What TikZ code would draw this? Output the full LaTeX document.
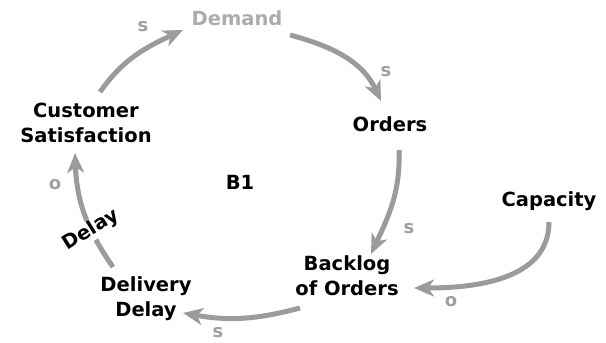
\documentclass[tikz,border=0pt]{standalone}
\usepackage{fontspec}
\setmainfont{DejaVu Sans}
\usepackage{tikz}
\definecolor{linkgray}{RGB}{155,155,155}
\definecolor{demgray}{RGB}{172,172,172}
\definecolor{polgray}{RGB}{160,160,160}
\usetikzlibrary{arrows.meta}

\begin{document}
\begin{tikzpicture}[x=1pt, y=1pt,
        >={Stealth[length=20pt,width=17pt,inset=6pt]},   %Pfeilspitzen
        var/.style={align=center, inner sep=3pt, font=\fontsize{19.5}{25}\selectfont\bfseries},
        pol/.style={text=polgray, font=\fontsize{18}{20}\selectfont\bfseries},
        link/.style={->, draw=linkgray, line width=5pt}]
        %Bildbereich
        \useasboundingbox (0,0) rectangle (606,343);
        % Variablen
        \node[var, text=demgray] (dem) at (237,325) {Demand};
        \node[var] (ord) at (390,219) {Orders};
        \node[var] (cs) at (86,220) {Customer\\Satisfaction};
        \node[var] (b1) at (240,161) {B1};
        \node[var] (cap) at (549,142) {Capacity};
        \node[var] (blo) at (347,67) {Backlog\\of Orders};
        \node[var] (dd) at (146,44) {Delivery\\Delay};
        % Kanten
        \draw[link] ([shift={(14,31)}]cs.center) to[out=55, in=205] ([shift={(-54,-12)}]dem.center);
        \draw[link] ([shift={(53,-17)}]dem.center) to[out=-15, in=115] ([shift={(-9,23)}]ord.center);
        \draw[link] ([shift={(9,-26)}]ord.center) to[out=-88, in=65] ([shift={(24,22)}]blo.center);
        \draw[link] ([shift={(0,-21)}]cap.center) to[out=-90, in=0] ([shift={(67,-12)}]blo.center);
        \draw[link] ([shift={(-47,-32)}]blo.center) to[out=195, in=-10] ([shift={(37,-14)}]dd.center);
        \draw[link] ([shift={(-33,32)}]dd.center) to[out=125, in=-88]
            node[var, fill=white, rotate=32, inner sep=1pt, pos=0.34] (dl) {Delay}
            ([shift={(-11,-30)}]cs.center);
        % Polaritaeten
        \node[pol] (p1) at (143,316) {s};
        \node[pol] (p2) at (386,271) {s};
        \node[pol] (p3) at (409,114) {s};
        \node[pol] (p4) at (451,41) {o};
        \node[pol] (p5) at (218,10) {s};
        \node[pol] (p6) at (55,158) {o};
\end{tikzpicture}
\end{document}
